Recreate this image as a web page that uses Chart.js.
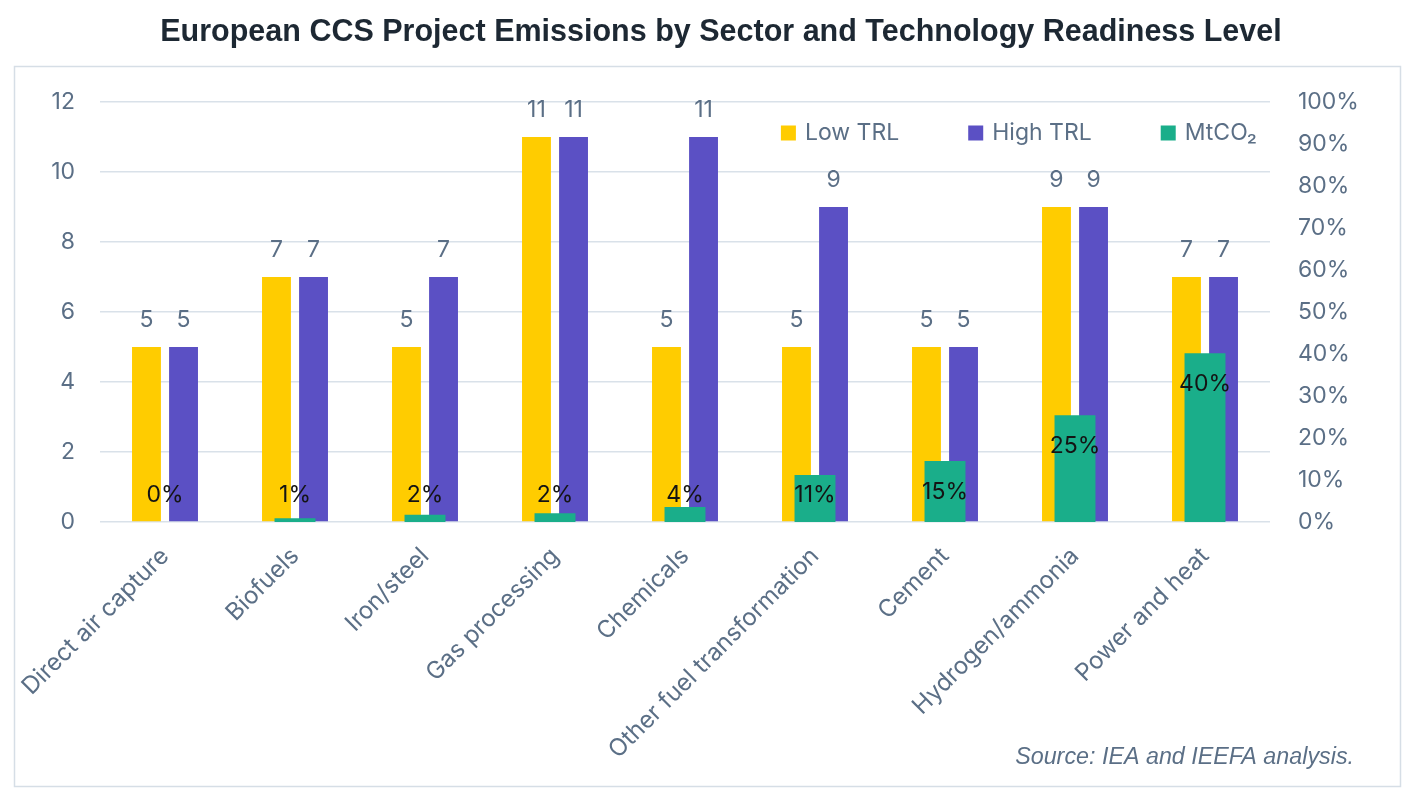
<!DOCTYPE html>
<html>
<head>
<meta charset="utf-8">
<script src="https://cdn.jsdelivr.net/npm/chart.js@4.4.1/dist/chart.umd.min.js"></script>
<style>
  html, body { margin: 0; padding: 0; background: #fff; }
</style>
</head>
<body>
<canvas id="ccsChart" width="1417" height="800"></canvas>
<script>
// Datos del grafico
const sectores = ["Direct air capture", "Biofuels", "Iron/steel", "Gas processing", "Chemicals",
  "Other fuel transformation", "Cement", "Hydrogen/ammonia", "Power and heat"];
const lowTrl = [5, 7, 5, 11, 5, 5, 5, 9, 7];
const highTrl = [5, 7, 7, 11, 11, 9, 5, 9, 7];
// % de MtCO2 por sector
const mtco2 = [0, 0.9, 1.7, 2.1, 3.6, 11.2, 14.5, 25.4, 40.2];

const gris = '#5b6f86';
const fuente = 'Inter';
const tam = 23;
Chart.defaults.font.family = fuente;

// Marco, fuente y leyenda
const decoracion = {
  id: 'decoracion',
  beforeDraw(chart) {
    const ctx = chart.ctx;
    ctx.save();
    ctx.strokeStyle = '#d6dee6';
    ctx.lineWidth = 1.5;
    ctx.strokeRect(14.5, 66.5, chart.width - 31, chart.height - 80);
    ctx.restore();
  },
  afterDraw(chart) {
    const {ctx, chartArea} = chart;
    ctx.save();
    ctx.font = 'italic 23.3px "Liberation Sans"';
    ctx.fillStyle = gris;
    ctx.textAlign = 'right';
    ctx.textBaseline = 'middle';
    ctx.fillText('Source: IEA and IEEFA analysis.', chart.width - 63, 758);

    // leyenda dentro del area, alineada a la derecha
    ctx.font = tam + 'px ' + fuente;
    ctx.textAlign = 'left';
    let x = chartArea.right - 13;
    const y = chartArea.top + 31;
    for (let i = chart.data.datasets.length - 1; i >= 0; i--) {
      const ds = chart.data.datasets[i];
      x -= ctx.measureText(ds.label).width;
      ctx.fillStyle = gris;
      ctx.fillText(ds.label, x, y);
      ctx.fillStyle = ds.backgroundColor;
      ctx.fillRect(x - 24, y - 7.5, 15, 15);
      x -= 24 + 69;
    }
    ctx.restore();
  }
};

// Etiquetas de valores
const etiquetas = {
  id: 'etiquetas',
  afterDatasetsDraw(chart) {
    const ctx = chart.ctx;
    ctx.save();
    ctx.textAlign = 'center';
    ctx.font = tam + 'px ' + fuente;
    chart.data.datasets.forEach((ds, i) => {
      chart.getDatasetMeta(i).data.forEach((bar, j) => {
        const v = ds.data[j];
        if (ds.yAxisID === 'y1') {
          ctx.fillStyle = '#141414';
          ctx.textBaseline = 'middle';
          ctx.fillText(Math.round(v) + '%', bar.x, Math.min(bar.y + 31, bar.base - 27));
        } else {
          ctx.fillStyle = gris;
          ctx.textBaseline = 'alphabetic';
          ctx.fillText(v, bar.x, bar.y - 20);
        }
      });
    });
    ctx.restore();
  }
};

new Chart(document.getElementById('ccsChart'), {
  type: 'bar',
  data: {
    labels: sectores,
    datasets: [
      {
        label: 'Low TRL',
        data: lowTrl,
        backgroundColor: '#ffcc00',
        yAxisID: 'y',
        categoryPercentage: 0.57,
        barPercentage: 0.78,
        order: 1
      },
      {
        label: 'High TRL',
        data: highTrl,
        backgroundColor: '#5b50c4',
        yAxisID: 'y',
        categoryPercentage: 0.57,
        barPercentage: 0.78,
        order: 1
      },
      {
        label: 'MtCO\u2082',
        data: mtco2,
        backgroundColor: '#1aae8a',
        yAxisID: 'y1',
        grouped: false,
        categoryPercentage: 0.5,
        barPercentage: 0.63,
        order: 0
      }
    ]
  },
  options: {
    responsive: false,
    animation: false,
    layout: { padding: { left: 28, right: 3, top: 0, bottom: 0 } },
    plugins: {
      legend: { display: false },
      tooltip: { enabled: false },
      title: {
        display: true,
        text: 'European CCS Project Emissions by Sector and Technology Readiness Level',
        color: '#1d2833',
        font: { family: 'Liberation Sans', size: 30.5, weight: 'bold' },
        padding: { top: 14, bottom: 51.4 }
      }
    },
    scales: {
      x: {
        grid: { display: false },
        border: { display: false },
        ticks: { color: gris, font: { size: 24 }, minRotation: 45, maxRotation: 45, padding: 12, autoSkip: false },
        afterFit(s) { s.height = 278; }
      },
      y: {
        position: 'left',
        min: 0,
        max: 12,
        ticks: { stepSize: 2, padding: 25, color: gris, font: { size: tam } },
        grid: { color: '#d9e1e9', lineWidth: 1.5, drawTicks: false },
        border: { display: false },
        afterFit(s) { s.width = 72; }
      },
      y1: {
        position: 'right',
        min: 0,
        max: 100,
        ticks: { stepSize: 10, padding: 20, color: gris, font: { size: tam }, callback: v => v + '%' },
        grid: { display: false },
        border: { display: false },
        afterFit(s) { s.width = 144; }
      }
    }
  },
  plugins: [decoracion, etiquetas]
});
</script>
</body>
</html>
